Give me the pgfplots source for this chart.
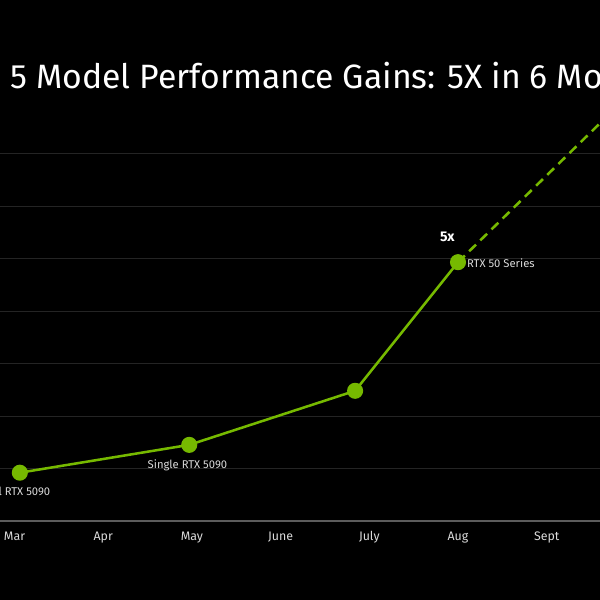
\documentclass[border=0pt]{standalone}
\usepackage{pgfplots}
\pgfplotsset{compat=1.18}
\usepackage{fontspec}
\setmainfont{Fira Sans}

\definecolor{nvgreen}{HTML}{76B900}
\definecolor{gridgray}{HTML}{242424}
\definecolor{basegray}{HTML}{5C5C5C}
\definecolor{labelgray}{HTML}{DADADA}

\begin{document}
\begin{tikzpicture}
% page: 600x600 px, 1px = 0.025cm; axis box covers px 0..600 across, 0..521 down
\path[use as bounding box, fill=black] (0,-1.975) rectangle (15,13.025);
\begin{scope}
\clip (0,-1.975) rectangle (15,13.025);
\begin{axis}[
  scale only axis,
  width=15cm, height=13.025cm,
  xmin=-0.1635, xmax=6.601,
  ymin=0, ymax=9.924,
  axis x line=bottom,
  axis y line*=left,
  x axis line style={draw=basegray, line width=1.2pt, -},
  y axis line style={draw=none},
  xtick={0,...,6},
  xticklabels={Mar,Apr,May,June,July,Aug,Sept},
  xticklabel style={anchor=base, yshift=-0.475cm, font=\fontsize{8.8}{10}\selectfont, text=labelgray},
  ytick={1,...,7},
  yticklabels={},
  major tick length=0pt,
  ymajorgrids,
  grid style={draw=gridgray, line width=0.7pt},
  /pgf/number format/assume math mode=true,
]
% measured series
\addplot[nvgreen, line width=1.8pt, mark=*, mark size=4.8pt,
  mark options={fill=nvgreen, draw=nvgreen}]
  coordinates {(0.06,0.92) (1.97,1.45) (3.84,2.48) (5.0,4.93)};
% projected trend
\addplot[nvgreen, line width=1.8pt, dash pattern=on 6.8pt off 4.3pt]
  coordinates {(5.0,4.93) (6.7,7.74)};

\node[text=white, anchor=base west, inner sep=0pt, font=\fontsize{24}{28}\selectfont]
  at (axis cs:-0.0507,8.229) {5 Model Performance Gains: 5X in 6 Mo};
\node[text=labelgray, font=\fontsize{8}{9}\selectfont, anchor=center]
  at (axis cs:0.0,0.57) {Dual RTX 5090};
\node[text=labelgray, font=\fontsize{8}{9}\selectfont, anchor=center]
  at (axis cs:1.95,1.069) {Single RTX 5090};
\node[text=labelgray, font=\fontsize{8}{9}\selectfont, anchor=west, inner sep=0pt]
  at (axis cs:5.1,4.91) {RTX 50 Series};
\node[text=white, font=\bfseries\fontsize{10}{11}\selectfont, anchor=center]
  at (axis cs:4.88,5.41) {5x};
\end{axis}
\end{scope}
\end{tikzpicture}
\end{document}
